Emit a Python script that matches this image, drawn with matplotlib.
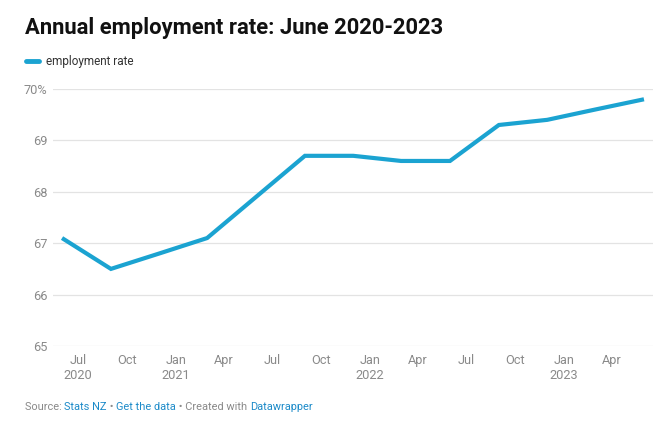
import numpy as np
import pandas as pd
import matplotlib
matplotlib.use("Agg")
import matplotlib.pyplot as plt

plt.rcParams['font.family'] = ['Roboto', 'DejaVu Sans']

# quarterly annual employment rate (%), June 2020 - June 2023
quarters = pd.to_datetime(["2020-06-01", "2020-09-01", "2020-12-01", "2021-03-01",
                           "2021-06-01", "2021-09-01", "2021-12-01", "2022-03-01",
                           "2022-06-01", "2022-09-01", "2022-12-01", "2023-03-01",
                           "2023-06-01"])
rate = [67.1, 66.5, 66.8, 67.1, 67.9, 68.7, 68.7, 68.6, 68.6, 69.3, 69.4, 69.6, 69.8]

tick_dates = pd.to_datetime(["2020-07-01", "2020-10-01", "2021-01-01", "2021-04-01",
                             "2021-07-01", "2021-10-01", "2022-01-01", "2022-04-01",
                             "2022-07-01", "2022-10-01", "2023-01-01", "2023-04-01"])
tick_labels = ["Jul\n2020", "Oct", "Jan\n2021", "Apr", "Jul", "Oct",
               "Jan\n2022", "Apr", "Jul", "Oct", "Jan\n2023", "Apr"]
y_ticks = [65, 66, 67, 68, 69, 70]
y_labels = ["65", "66", "67", "68", "69", "70%"]

blue = "#1ba3d1"
link = "#1d8bc9"
grey = "#8a8a8a"

fig = plt.figure(figsize=(6.7, 4.24), dpi=100)
W, H = 670, 424
ax = fig.add_axes([53 / W, 1 - 346 / H, 600 / W, 257 / H])

ax.plot(quarters, rate, color=blue, linewidth=3.0, solid_joinstyle='miter',
        solid_capstyle='butt', zorder=3)

ax.set_ylim(65, 70)
ax.set_xlim(pd.Timestamp("2020-05-15"), pd.Timestamp("2023-06-18"))
ax.set_yticks(y_ticks)
ax.set_yticklabels(y_labels)
ax.set_xticks(tick_dates)
ax.set_xticklabels(tick_labels, linespacing=1.2)
ax.grid(axis='y', color="#e3e3e3", linewidth=0.9, zorder=0)
ax.tick_params(axis='both', length=0, labelsize=9.2, labelcolor=grey)
ax.tick_params(axis='y', pad=4)
ax.tick_params(axis='x', pad=6)
for s in ax.spines.values():
    s.set_visible(False)

fig.text(25 / W, 1 - 28 / H, "Annual employment rate: June 2020-2023",
         fontsize=15.8, fontweight='bold', color="#111111", va='center')

# legend swatch + label
fig.add_artist(plt.Line2D([26 / W, 39 / W], [1 - 61 / H, 1 - 61 / H],
                          color=blue, linewidth=3.5, solid_capstyle='round'))
fig.text(46 / W, 1 - 61 / H, "employment rate", fontsize=8.5, color="#333333", va='center')

# footer with coloured pieces
footer = [("Source: ", grey), ("Stats NZ", link), (" \u2022 ", grey),
          ("Get the data", link), (" \u2022 Created with ", grey),
          ("Datawrapper", link)]
renderer = fig.canvas.get_renderer()
x = 25 / W
for txt, col in footer:
    t = fig.text(x, 1 - 407 / H, txt, fontsize=7.9, color=col, va='center')
    bb = t.get_window_extent(renderer=renderer)
    x += bb.width / W

fig.savefig("out.png", dpi=100)
